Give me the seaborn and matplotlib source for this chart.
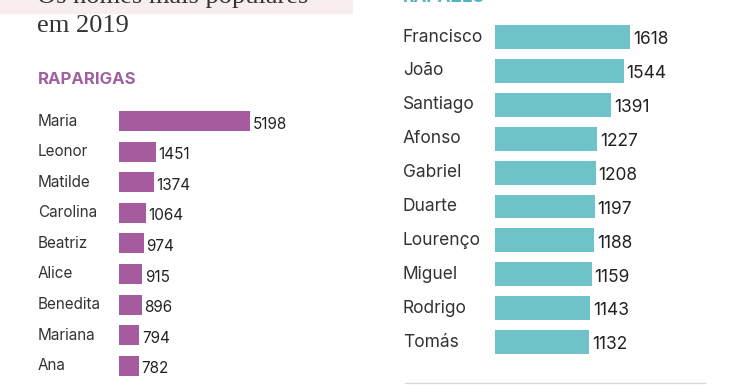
import matplotlib
matplotlib.use("Agg")
import matplotlib.pyplot as plt
import matplotlib.transforms as mtransforms
import seaborn as sns
import pandas as pd

girls_names = ["Maria", "Leonor", "Matilde", "Carolina", "Beatriz", "Alice",
               "Benedita", "Mariana", "Ana"]
girls_values = [5198, 1451, 1374, 1064, 974, 915, 896, 794, 782]

boys_names = ["Francisco", "João", "Santiago", "Afonso", "Gabriel", "Duarte",
              "Lourenço", "Miguel", "Rodrigo", "Tomás"]
boys_values = [1618, 1544, 1391, 1227, 1208, 1197, 1188, 1159, 1143, 1132]

title_lines = ["Os nomes mais populares", "em 2019"]
girls_header = "RAPARIGAS"
boys_header = "RAPAZES"

PURPLE = "#a65b9e"
TEAL = "#6fc3c8"
W, H = 740, 389

sns.set_theme(style="white")
plt.rcParams["font.family"] = ["Inter", "DejaVu Sans"]

fig = plt.figure(figsize=(W / 100, H / 100), dpi=100)
fig.patch.set_facecolor("white")

# light pink band at the top-left
fig.patches.append(plt.Rectangle((0, 1 - 13 / H), 352 / W, 13 / H,
                                 transform=fig.transFigure, color="#f8eeee", zorder=0))


def panel(names, values, color, left_px, right_px, px_per_unit, y0_px, step_px, bar_px,
          label_x_px, fs, drop_pt):
    ax = fig.add_axes([left_px / W, 0, (right_px - left_px) / W, 1])
    ax.set_facecolor("none")
    df = pd.DataFrame({"name": names, "value": values})
    sns.barplot(data=df, y="name", x="value", orient="h", color=color,
                width=bar_px / step_px, ax=ax, saturation=1)
    ax.set_xlim(0, (right_px - left_px) / px_per_unit)
    top = -y0_px / step_px
    bottom = (H - y0_px) / step_px
    ax.set_ylim(bottom, top)
    for p in ax.patches:
        p.set_edgecolor("none")
    texts = ax.bar_label(ax.containers[0], labels=[str(v) for v in values], padding=2,
                         fontsize=fs, color="#222222")
    for t in texts:
        ox, oy = t.xyann
        t.xyann = (ox, oy - drop_pt)
    trans = mtransforms.blended_transform_factory(fig.transFigure, ax.transData)
    for i, n in enumerate(names):
        ax.text(label_x_px / W, i, n, transform=trans, ha="left", va="center",
                fontsize=fs, color="#333333")
    ax.set_axis_off()
    return ax


axL = panel(girls_names, girls_values, PURPLE, 119, 352, 131 / 5198, 121, 30.6, 20, 38, 11, 2.2)
axR = panel(boys_names, boys_values, TEAL, 495, 740, 135 / 1618, 37, 33.9, 24, 403, 12.5, 2.0)

# title (first line partially cut off at top, as in the reference)
fig.text(37 / W, 1 - 32 / H, title_lines[1], fontsize=19, color="#333333",
         family=["Liberation Serif", "DejaVu Serif"], ha="left", va="baseline")
fig.text(37 / W, 1 - 3 / H, title_lines[0], fontsize=19, color="#333333",
         family=["Liberation Serif", "DejaVu Serif"], ha="left", va="baseline")

fig.text(38 / W, 1 - 79 / H, girls_header, fontsize=12, color="#a060a0",
         fontweight="bold", ha="left", va="center")
fig.text(403 / W, 1 + 3 / H, boys_header, fontsize=12.5, color="#4fb6bd",
         fontweight="bold", ha="left", va="center")

# footer rule on the right panel
fig.add_artist(plt.Line2D([405 / W, 705 / W], [1 - 383 / H, 1 - 383 / H],
                          transform=fig.transFigure, color="#d8d8d8", lw=1))

fig.savefig("out.png", dpi=100, facecolor=fig.get_facecolor())
